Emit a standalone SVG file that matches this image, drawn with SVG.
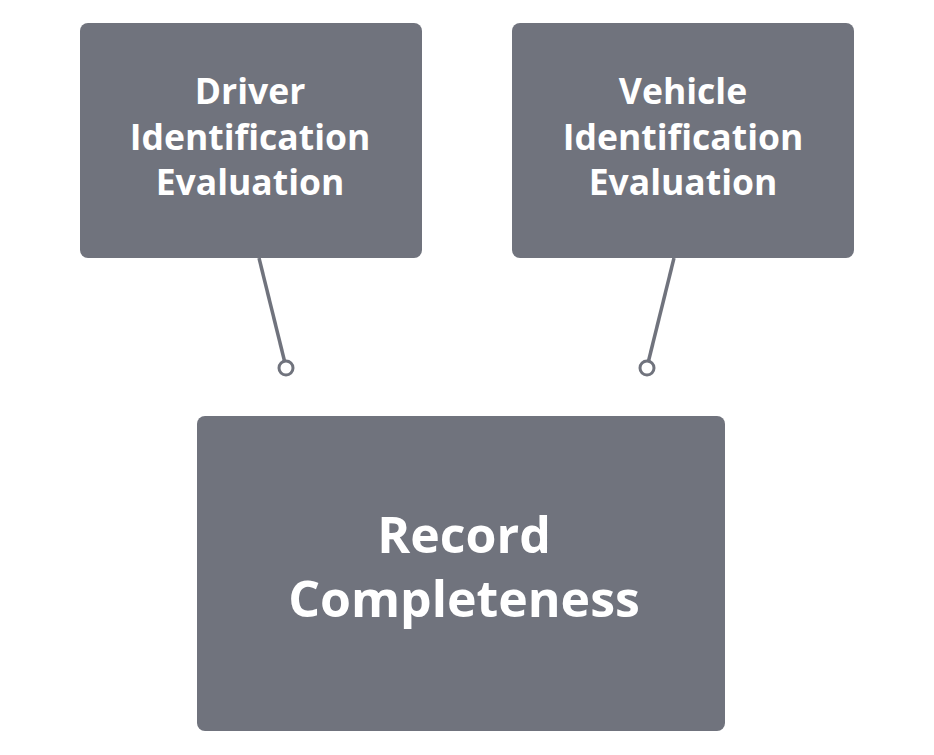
<svg xmlns="http://www.w3.org/2000/svg" width="934" height="755" viewBox="0 0 934 755">
<style>
.box{fill:#70737d}
.t{font-family:"Open Sans","Noto Sans","Liberation Sans",sans-serif;font-weight:bold;fill:#ffffff;text-anchor:middle}
.s{font-size:35.5px}
.b{font-size:50px}
.c{stroke:#70737d;stroke-width:3.5;fill:none}
.dot{stroke:#70737d;stroke-width:3;fill:#ffffff}
</style>
<rect width="934" height="755" fill="#ffffff"/>
<g id="connectors">
<line class="c" x1="259" y1="258" x2="284.5" y2="361"/>
<circle class="dot" cx="286" cy="368" r="7"/>
<line class="c" x1="674" y1="258" x2="648.5" y2="361"/>
<circle class="dot" cx="647" cy="368" r="7"/>
</g>
<g id="driver">
<rect class="box" x="80" y="23" width="342" height="235" rx="8"/>
<text class="t s" x="250" y="104">Driver</text>
<text class="t s" x="250" y="150">Identification</text>
<text class="t s" x="250" y="195">Evaluation</text>
</g>
<g id="vehicle">
<rect class="box" x="512" y="23" width="342" height="235" rx="8"/>
<text class="t s" x="683" y="104">Vehicle</text>
<text class="t s" x="683" y="150">Identification</text>
<text class="t s" x="683" y="195">Evaluation</text>
</g>
<g id="record">
<rect class="box" x="197" y="416" width="528" height="315" rx="8"/>
<text class="t b" x="464" y="553">Record</text>
<text class="t b" x="464" y="617">Completeness</text>
</g>
</svg>
